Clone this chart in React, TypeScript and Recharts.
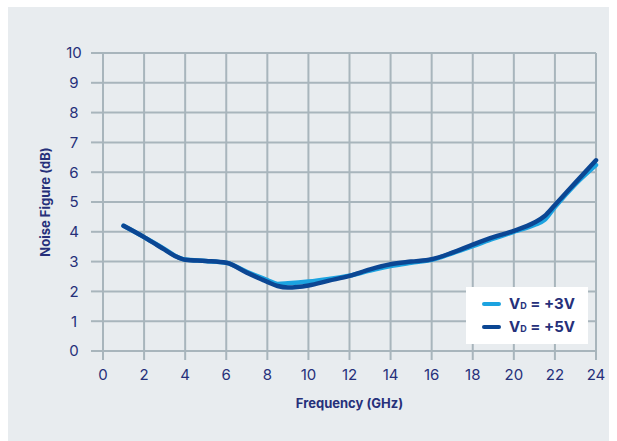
import { LineChart, Line, XAxis, YAxis, CartesianGrid } from 'recharts'

// frequency points (GHz)
const freqs = [1, 2, 3, 3.5, 4, 5, 6, 7, 8, 8.5, 9, 10, 11, 12, 13, 14, 15, 16, 17, 18, 19, 20, 21, 21.5, 22, 23, 24]
// noise figure (dB), VD = +3V
const nf3V = [4.2, 3.82, 3.42, 3.2, 3.07, 3.02, 2.96, 2.66, 2.38, 2.25, 2.27, 2.33, 2.42, 2.53, 2.7, 2.85, 2.96, 3.06, 3.28, 3.52, 3.77, 4.0, 4.23, 4.4, 4.83, 5.6, 6.24]
// noise figure (dB), VD = +5V
const nf5V = [4.2, 3.82, 3.4, 3.19, 3.06, 3.02, 2.96, 2.63, 2.32, 2.18, 2.13, 2.2, 2.36, 2.52, 2.74, 2.91, 3.0, 3.08, 3.3, 3.57, 3.82, 4.03, 4.31, 4.53, 4.9, 5.65, 6.4]

const xTicks = [0, 2, 4, 6, 8, 10, 12, 14, 16, 18, 20, 22, 24]
const yTicks = [0, 1, 2, 3, 4, 5, 6, 7, 8, 9, 10]

const data = freqs.map((f, i) => ({ f, v3: nf3V[i], v5: nf5V[i] }))

const GRID = '#a8b5bc'
const NAVY = '#26307a'
const LIGHT = '#1ca3e0'
const DARK = '#0b4693'
const FONT = 'Inter, "Noto Sans", sans-serif'

const YTick = (props: any) => {
  const { y, payload } = props
  return (
    <text x={66} y={y} dy="0.36em" textAnchor="middle" fontSize={15} fill={NAVY} fontFamily={FONT}>
      {payload.value}
    </text>
  )
}

// legend drawn as a plain overlay so it doesn't eat into the plot height
const LegendBox = () => (
  <div
    style={{
      position: 'absolute',
      left: 458,
      top: 280,
      background: '#fff',
      width: 122,
      height: 57,
      boxSizing: 'border-box',
      padding: '5px 0 0 16px',
      fontFamily: FONT,
    }}
  >
    {[
      { c: LIGHT, t: '+3V' },
      { c: DARK, t: '+5V' },
    ].map((it) => (
      <div key={it.t} style={{ display: 'flex', alignItems: 'center', height: 23 }}>
        <span style={{ width: 19, height: 4, borderRadius: 2, background: it.c, marginRight: 8 }} />
        <span style={{ fontWeight: 700, fontSize: 15, color: NAVY, whiteSpace: 'nowrap' }}>
          V<span style={{ fontSize: 9 }}>D</span> = {it.t}
        </span>
      </div>
    ))}
  </div>
)

export default function App() {
  return (
    <div
      style={{
        position: 'fixed',
        left: 8,
        top: 7,
        width: 601,
        height: 434,
        background: '#e8ecef',
      }}
    >
      <LineChart width={601} height={434} data={data} margin={{ top: 46, right: 13, left: 0, bottom: 0 }}>
        <CartesianGrid stroke={GRID} strokeWidth={2} />
        <XAxis
          dataKey="f"
          type="number"
          domain={[0, 24]}
          ticks={xTicks}
          height={90}
          tickSize={9}
          tickMargin={9}
          axisLine={false}
          tickLine={{ stroke: GRID, strokeWidth: 2 }}
          tick={{ fontSize: 15, fill: NAVY, fontFamily: FONT }}
          label={{
            value: 'Frequency (GHz)',
            position: 'insideBottom',
            offset: 33,
            fontSize: 13,
            fontWeight: 700,
            fill: NAVY,
            fontFamily: FONT,
          }}
        />
        <YAxis
          type="number"
          domain={[0, 10]}
          ticks={yTicks}
          width={95}
          tickSize={12}
          axisLine={false}
          tickLine={{ stroke: GRID, strokeWidth: 2 }}
          tick={<YTick />}
          label={{
            value: 'Noise Figure (dB)',
            angle: -90,
            position: 'insideLeft',
            offset: 37,
            fontSize: 13,
            fontWeight: 700,
            fill: NAVY,
            fontFamily: FONT,
            style: { textAnchor: 'middle' },
          }}
        />
        <Line
          type="monotone"
          dataKey="v3"
          stroke={LIGHT}
          strokeWidth={4.5}
          dot={false}
          strokeLinecap="round"
          isAnimationActive={false}
        />
        <Line
          type="monotone"
          dataKey="v5"
          stroke={DARK}
          strokeWidth={4.5}
          dot={false}
          strokeLinecap="round"
          isAnimationActive={false}
        />
      </LineChart>
      <LegendBox />
    </div>
  )
}
